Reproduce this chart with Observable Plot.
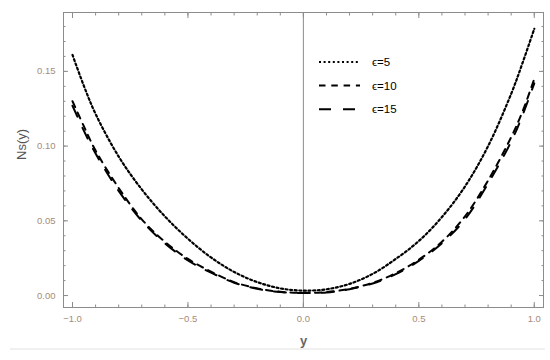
<!DOCTYPE html>
<html><head><meta charset="utf-8">
<script src="https://cdn.jsdelivr.net/npm/d3@7"></script>
<script src="https://cdn.jsdelivr.net/npm/@observablehq/plot@0.6"></script>
<style>
body{margin:0;background:#fff;}
#wrap{position:relative;width:550px;height:360px;font-family:"Liberation Sans",Arial,sans-serif;background:#fff;}
#legend{position:absolute;left:0;top:0;pointer-events:none;}
#rule{position:absolute;left:10px;top:348px;width:535px;height:2px;background:#f0f0f0;}
</style></head>
<body><div id="wrap"></div>
<script>
// ---- data ----
const yGrid = [-1.0,-0.95,-0.9,-0.8,-0.7,-0.6,-0.5,-0.4,-0.3,-0.2,-0.1,0.0,0.1,0.2,0.3,0.4,0.5,0.6,0.7,0.8,0.9,0.95,1.0];
const eps5  = [0.161,0.140,0.1215,0.093,0.071,0.053,0.038,0.0255,0.0158,0.009,0.0048,0.0033,0.0042,0.0078,0.0145,0.0245,0.0365,0.0525,0.073,0.100,0.135,0.156,0.1785];
const eps10 = [0.130,0.113,0.097,0.072,0.051,0.036,0.0245,0.016,0.009,0.0048,0.0025,0.0018,0.0023,0.0045,0.0085,0.015,0.024,0.036,0.053,0.077,0.106,0.1235,0.145];
const eps15 = [0.127,0.110,0.095,0.070,0.050,0.035,0.0235,0.0153,0.0086,0.0045,0.0023,0.0017,0.0021,0.0042,0.0081,0.0143,0.0232,0.035,0.051,0.075,0.103,0.121,0.142];
const seriesNames = ["ϵ=5","ϵ=10","ϵ=15"];
const xMajor = [-1.0,-0.5,0.0,0.5,1.0];
const xMinor = [-1.0,-0.9,-0.8,-0.7,-0.6,-0.5,-0.4,-0.3,-0.2,-0.1,0.0,0.1,0.2,0.3,0.4,0.5,0.6,0.7,0.8,0.9,1.0];
const yMajor = [0.00,0.05,0.10,0.15];
const yMinor = [0.00,0.01,0.02,0.03,0.04,0.05,0.06,0.07,0.08,0.09,0.10,0.11,0.12,0.13,0.14,0.15,0.16,0.17,0.18];
const xLabel = "y";
const yLabel = "Ns(y)";

// ---- styling ----
const dashes = ["2,2.6","6.5,5.8","12,12"];
const widths = [2.2, 2, 2];
const frameColor = "#8c8c8c";
const tickLabelColor = "#a58b7a";

const seriesValues = [eps5, eps10, eps15];
const rows = seriesNames.flatMap((s, k) => yGrid.map((y, i) => ({y, v: seriesValues[k][i], s})));

const plot = Plot.plot({
  width: 550, height: 360,
  marginLeft: 63, marginRight: 7, marginTop: 12, marginBottom: 53,
  style: {fontFamily: '"Liberation Sans", Arial, sans-serif', background: "white"},
  x: {domain: [-1.039, 1.04]},
  y: {domain: [-0.008, 0.1894]},
  marks: [
    Plot.ruleX([0], {stroke: frameColor, strokeWidth: 1}),
    ...seriesNames.map((s, k) => Plot.line(rows.filter(d => d.s === s), {
      x: "y", y: "v", stroke: "black", strokeWidth: widths[k], strokeDasharray: dashes[k], curve: "catmull-rom"
    })),
    Plot.frame({stroke: frameColor}),
    // inward ticks on all sides
    Plot.axisX(xMajor, {anchor: "bottom", tickSize: -5, stroke: frameColor, fill: "none"}),
    Plot.axisX(xMinor, {anchor: "bottom", tickSize: -2.5, stroke: frameColor, fill: "none"}),
    Plot.axisX(xMajor, {anchor: "top", tickSize: -5, stroke: frameColor, fill: "none"}),
    Plot.axisX(xMinor, {anchor: "top", tickSize: -2.5, stroke: frameColor, fill: "none"}),
    Plot.axisY(yMajor, {anchor: "left", tickSize: -5, stroke: frameColor, fill: "none"}),
    Plot.axisY(yMinor, {anchor: "left", tickSize: -2.5, stroke: frameColor, fill: "none"}),
    Plot.axisY(yMajor, {anchor: "right", tickSize: -5, stroke: frameColor, fill: "none"}),
    Plot.axisY(yMinor, {anchor: "right", tickSize: -2.5, stroke: frameColor, fill: "none"}),
    // tick labels
    Plot.axisX(xMajor, {anchor: "bottom", tickSize: 0, tickPadding: 8, tickFormat: d3.format(".1f"), fill: tickLabelColor, fontSize: 9.5, label: null}),
    Plot.axisY(yMajor, {anchor: "left", tickSize: 0, tickPadding: 8, tickFormat: d3.format(".2f"), fill: tickLabelColor, fontSize: 9.5, label: null}),
    // axis titles
    Plot.text([xLabel], {text: d => d, frameAnchor: "bottom", dy: 33, lineAnchor: "middle", fontWeight: "bold", fontSize: 13, fill: "#666"}),
    Plot.text([yLabel], {text: d => d, frameAnchor: "left", dx: -42, rotate: -90, lineAnchor: "middle", fontSize: 13, fill: "#555"})
  ]
});
const wrap = document.getElementById("wrap");
wrap.appendChild(plot);

// legend overlay
const ns = "http://www.w3.org/2000/svg";
const lg = document.createElementNS(ns, "svg");
lg.setAttribute("id", "legend");
lg.setAttribute("width", 550); lg.setAttribute("height", 360);
seriesNames.forEach((s, k) => {
  const yy = 62 + k * 23.6;
  const ln = document.createElementNS(ns, "line");
  ln.setAttribute("x1", 319); ln.setAttribute("x2", 360);
  ln.setAttribute("y1", yy); ln.setAttribute("y2", yy);
  ln.setAttribute("stroke", "black"); ln.setAttribute("stroke-width", widths[k]);
  ln.setAttribute("stroke-dasharray", dashes[k]);
  lg.appendChild(ln);
  const tx = document.createElementNS(ns, "text");
  tx.setAttribute("x", 372); tx.setAttribute("y", yy); tx.setAttribute("dy", "0.35em");
  tx.setAttribute("font-size", 11.5);
  tx.setAttribute("font-family", '"Liberation Sans", Arial, sans-serif');
  tx.textContent = s;
  lg.appendChild(tx);
});
wrap.appendChild(lg);
const rule = document.createElement("div");
rule.id = "rule";
wrap.appendChild(rule);
</script></body></html>
